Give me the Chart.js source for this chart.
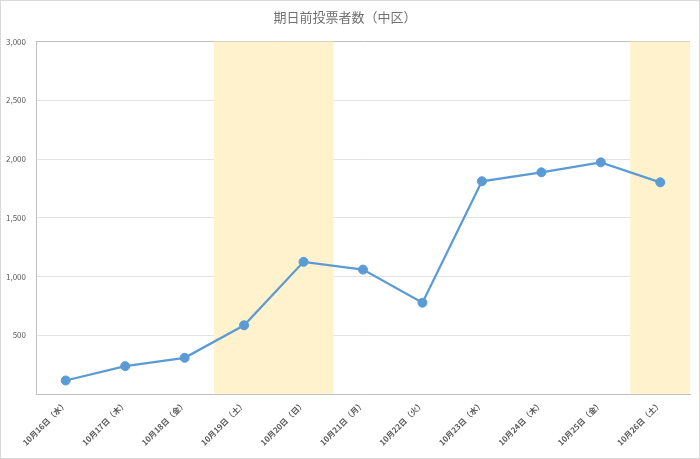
<!DOCTYPE html>
<html>
<head>
<meta charset="utf-8">
<script src="https://cdn.jsdelivr.net/npm/chart.js@4.4.1/dist/chart.umd.min.js"></script>
<style>
html,body{margin:0;padding:0;background:#fff;}
#wrap{width:700px;height:459px;position:relative;}
</style>
</head>
<body>
<div id="wrap"><canvas id="c" width="700" height="459"></canvas></div>
<script>
const categories = ['10月16日（水）','10月17日（木）','10月18日（金）','10月19日（土）','10月20日（日）','10月21日（月）','10月22日（火）','10月23日（水）','10月24日（木）','10月25日（金）','10月26日（土）'];
const voters = [115, 237, 308, 585, 1125, 1059, 777, 1811, 1887, 1972, 1802];
const weekendShade = [null, null, null, 3000, 3000, null, null, null, null, null, 3000];
const yTicks = [0, 500, 1000, 1500, 2000, 2500, 3000];
const titleText = '期日前投票者数（中区）';

const FONT = '"Noto Sans CJK JP", "Noto Sans", sans-serif';

const borderPlugin = {
  id: 'outerBorder',
  afterDraw(chart) {
    const ctx = chart.ctx;
    ctx.save();
    ctx.strokeStyle = '#D9D9D9';
    ctx.lineWidth = 1;
    ctx.strokeRect(0.5, 0.5, chart.width - 1, chart.height - 1);
    ctx.restore();
  }
};

new Chart(document.getElementById('c'), {
  data: {
    labels: categories,
    datasets: [
      {
        type: 'line',
        data: voters,
        borderColor: '#5B9BD5',
        backgroundColor: '#5B9BD5',
        borderWidth: 2.25,
        pointRadius: 4.5,
        pointBorderWidth: 1,
        pointBackgroundColor: '#5B9BD5',
        pointBorderColor: '#5B9BD5',
        tension: 0,
        order: 0
      },
      {
        type: 'bar',
        data: weekendShade,
        backgroundColor: '#FFF2CC',
        borderWidth: 0,
        barPercentage: 1,
        categoryPercentage: 1,
        order: 1
      }
    ]
  },
  plugins: [borderPlugin],
  options: {
    responsive: false,
    animation: false,
    events: [],
    layout: { padding: { left: 0, right: 10, top: 0, bottom: 0 } },
    plugins: {
      legend: { display: false },
      tooltip: { enabled: false },
      title: {
        display: true,
        text: titleText,
        color: '#707070',
        font: { family: FONT, size: 13, weight: 'normal' },
        padding: { top: 9, bottom: 17 }
      }
    },
    scales: {
      x: {
        grid: { display: false, drawTicks: false },
        border: { display: true, color: '#BFBFBF', width: 1 },
        ticks: {
          color: '#595959',
          font: { family: FONT, size: 8, weight: 'bold' },
          maxRotation: 45,
          minRotation: 45,
          autoSkip: false,
          padding: 5
        },
        afterFit(scale) { scale.height = 65; }
      },
      y: {
        min: 0,
        max: 3000,
        afterBuildTicks(scale) { scale.ticks = yTicks.map(v => ({ value: v })); },
        grid: {
          drawTicks: false,
          color: ctx => (ctx.tick && ctx.tick.value === 3000) ? '#BFBFBF' : '#E3E3E3',
          lineWidth: 1
        },
        border: { display: true, color: '#BFBFBF', width: 1 },
        ticks: {
          color: '#595959',
          font: { family: FONT, size: 8 },
          padding: 10,
          callback: v => v === 0 ? '' : v.toLocaleString('en-US')
        },
        afterFit(scale) { scale.width = 36; }
      }
    }
  }
});
</script>
</body>
</html>
